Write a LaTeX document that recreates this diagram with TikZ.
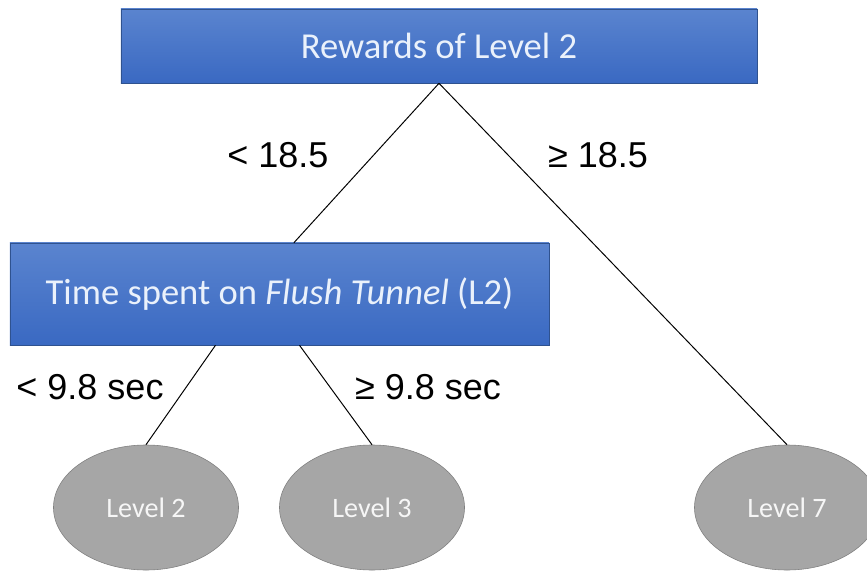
\documentclass[tikz,border=0pt]{standalone}
\usepackage{fontspec}
\setmainfont{Liberation Sans}
\newfontfamily\calibri{Carlito}
\usetikzlibrary{shapes.geometric}
\definecolor{boxtop}{HTML}{5A84CF}
\definecolor{boxbot}{HTML}{3A69C2}
\definecolor{boxline}{HTML}{2F528F}
\definecolor{boxtext}{HTML}{EAF1FB}
\definecolor{leaffill}{HTML}{A6A6A6}
\definecolor{leafline}{HTML}{7F7F7F}

\begin{document}
\begin{tikzpicture}[
    x=0.025cm, y=-0.025cm,
    split/.style={
      rectangle, draw=boxline, top color=boxtop, bottom color=boxbot,
      inner sep=0pt, text=boxtext,
      font=\calibri\fontsize{26}{30}\selectfont
    },
    leaf/.style={
      ellipse, draw=leafline, fill=leaffill,
      minimum width=4.625cm, minimum height=3.125cm, inner sep=0pt,
      text=white!90!leaffill, font=\calibri\fontsize{20}{24}\selectfont
    },
    cond/.style={font=\fontsize{25.6}{30}\selectfont, anchor=base},
    edge/.style={line width=0.7pt},
  ]
    \useasboundingbox (0,0) rectangle (867,571);

    \node[split, minimum width=15.9cm, minimum height=1.85cm]   (rew)  at (439,46)    {Rewards of Level 2};
    \node[split, minimum width=13.475cm, minimum height=2.55cm] (time) at (279.5,294) {Time spent on \textit{Flush Tunnel} (L2)};

    \node[leaf] (lev2) at (146,507.5) {Level 2};
    \node[leaf] (lev3) at (372,507.5) {Level 3};
    \node[leaf] (lev7) at (787,507.5) {Level 7};

    \draw[edge] (rew.south) -- ([xshift=0.36cm]time.north);
    \draw[edge] (rew.south) -- (lev7.north);
    \draw[edge] ([xshift=-1.6cm]time.south) -- (lev2.north);
    \draw[edge] ([xshift=0.5cm]time.south) -- (lev3.north);

    \node[cond] (c1) at (278,167) {< 18.5};
    \node[cond] (c2) at (598,167) {≥ 18.5};
    \node[cond] (c3) at (90,399)  {< 9.8 sec};
    \node[cond] (c4) at (428,399) {≥ 9.8 sec};
  \end{tikzpicture}
\end{document}
